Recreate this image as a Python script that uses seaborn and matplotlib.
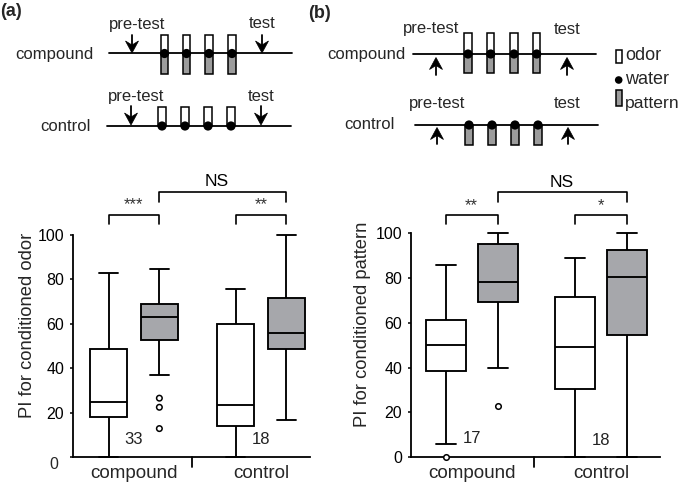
import numpy as np
import pandas as pd
import matplotlib
matplotlib.use('Agg')
import matplotlib.pyplot as plt
import seaborn as sns
from matplotlib.patches import Rectangle, Circle, Polygon

# ---- data ----
groups = ['compound', 'control']
phases = ['pre-test', 'test']

# five-number summaries of each box (min, Q1, median, Q3, max)
odor_compound_pre = [0, 17.9, 25.0, 48.8, 82.7]
odor_compound_test = [36.9, 52.6, 63.0, 69.1, 84.5]
odor_control_pre = [0, 14.0, 23.3, 59.9, 75.8]
odor_control_test = [16.6, 48.6, 56.0, 71.5, 100]
odor_outliers_compound_test = [26.5, 22.4, 12.8]

pattern_compound_pre = [5.8, 38.5, 49.9, 61.2, 85.7]
pattern_compound_test = [40.0, 69.1, 78.3, 95.1, 100]
pattern_control_pre = [0, 30.5, 49.3, 71.5, 88.9]
pattern_control_test = [0, 54.5, 80.4, 92.6, 100]
pattern_outliers_compound_pre = [0]
pattern_outliers_compound_test = [22.9]

n_odor = ['33', '18']
n_odor_y = [7.7, 7.7]
n_pattern = ['17', '18']
n_pattern_y = [8.3, 7.3]
stars_odor = ['***', '**', 'NS']
stars_pattern = ['**', '*', 'NS']
ytick_vals = [0, 20, 40, 60, 80, 100]

box_colors = {'pre-test': 'white', 'test': '#a6a7ab'}


def make_df(cp, ct, xp, xt):
    rows = []
    for g, ph, vals in [('compound', 'pre-test', cp), ('compound', 'test', ct),
                        ('control', 'pre-test', xp), ('control', 'test', xt)]:
        for v in vals:
            rows.append({'group': g, 'phase': ph, 'pi': v})
    return pd.DataFrame(rows)


def make_out(items):
    rows = []
    for g, ph, vals in items:
        for v in vals:
            rows.append({'group': g, 'phase': ph, 'pi': v})
    return pd.DataFrame(rows)


odor_df = make_df(odor_compound_pre, odor_compound_test, odor_control_pre, odor_control_test)
odor_out = make_out([('compound', 'test', odor_outliers_compound_test)])
pattern_df = make_df(pattern_compound_pre, pattern_compound_test, pattern_control_pre, pattern_control_test)
pattern_out = make_out([('compound', 'pre-test', pattern_outliers_compound_pre),
                        ('compound', 'test', pattern_outliers_compound_test)])

sns.set_style('ticks')
plt.rcParams['font.family'] = ['Liberation Sans', 'DejaVu Sans']

fig = plt.figure(figsize=(6.81, 4.86), dpi=100)
W, H = 681, 486


def px_axes(x0, x1, y_top, y_bot):
    return fig.add_axes([x0 / W, 1 - y_bot / H, (x1 - x0) / W, (y_bot - y_top) / H])


def bracket(ax, x1, x2, ytop, ybot, label, ty, fs, color='#333333', tx=None):
    ax.plot([x1, x1, x2, x2], [ybot, ytop, ytop, ybot], color='black', lw=1.2, clip_on=False)
    if tx is None:
        tx = (x1 + x2) / 2
    ax.text(tx, ty, label, ha='center', va='center', fontsize=fs, color=color)


def draw_panel(ax, df, out, ylabel, n_labels, n_y, stars, xlim, mid_tick, b_low, b_high,
               gap, drop_zero, ns_x, label_xy):
    sns.boxplot(data=df, x='group', y='pi', hue='phase', order=groups, hue_order=phases,
                palette=box_colors, whis=(0, 100), width=0.8, gap=gap, linecolor='black',
                linewidth=1.35, showfliers=False, saturation=1, legend=False, ax=ax)
    sns.stripplot(data=out, x='group', y='pi', hue='phase', order=groups, hue_order=phases,
                  palette={'pre-test': 'white', 'test': 'white'}, dodge=True, jitter=False,
                  size=4, linewidth=1.1, edgecolor='black', legend=False, ax=ax, zorder=5)
    # let marks sitting on 0 and 100 show fully
    for art in ax.lines + ax.patches:
        art.set_clip_on(False)
    for coll in ax.collections:
        if len(coll.get_offsets()) > 0:
            coll.set_clip_on(False)
    ax.set_ylim(0, 100)
    ax.set_xlim(*xlim)
    ax.set_yticks(ytick_vals)
    if drop_zero:
        # the "0" sits lower and to the left, below the axis corner
        ax.set_yticklabels([''] + [str(v) for v in ytick_vals[1:]])
        ax.text(-0.061, -3.6, '0', transform=ax.get_yaxis_transform(), ha='right', va='center',
                fontsize=11.5)
    ax.set_xticks([0, 1])
    ax.set_xticklabels(groups)
    ax.tick_params(axis='y', length=2.5, width=1.1, pad=3.5, labelsize=11.5, colors='black')
    ax.tick_params(axis='x', which='major', length=0, pad=5.5, labelsize=13.6)
    # small tick between the two groups
    ax.plot([mid_tick, mid_tick], [0, -4.5], color='black', lw=1.3, clip_on=False)
    ax.set_xlabel('')
    ax.set_ylabel(ylabel, fontsize=13.2)
    ax.yaxis.set_label_coords(*label_xy)
    sns.despine(ax=ax)
    for s in ['left', 'bottom']:
        ax.spines[s].set_linewidth(1.3)
        ax.spines[s].set_color('black')
    for i, n in enumerate(n_labels):
        ax.text(i, n_y[i], n, ha='center', va='center', fontsize=12, color='#222222')
    # significance brackets
    bracket(ax, -0.2, 0.2, b_low[0], b_low[1], stars[0], b_low[2], 12)
    bracket(ax, 0.8, 1.2, b_low[0], b_low[1], stars[1], b_low[2], 12)
    bracket(ax, 0.2, 1.2, b_high[0], b_high[1], stars[2], b_high[2], 12.5, 'black', ns_x)


ax1 = px_axes(72.5, 310, 235, 457)
draw_panel(ax1, odor_df, odor_out, 'PI for conditioned odor', n_odor, n_odor_y, stars_odor,
           (-0.484, 1.386), 0.457, (109.1, 105.0, 113.5), (119.2, 115.0, 124.0), 0.27, True,
           0.655, (-0.154, 0.595))

ax2 = px_axes(410.7, 660, 233.3, 457)
draw_panel(ax2, pattern_df, pattern_out, 'PI for conditioned pattern', n_pattern, n_pattern_y,
           stars_pattern, (-0.471, 1.454), 0.483, (108.2, 104.2, 112.3), (118.3, 113.8, 122.7),
           0.23, False, 0.697, (-0.159, 0.592))

# ---- training schematics (drawn in pixel coordinates) ----
sk = fig.add_axes([0, 0, 1, 1], zorder=-1)
sk.set_xlim(0, W)
sk.set_ylim(H, 0)
sk.axis('off')
sk.patch.set_alpha(0)

pat_gray = '#9c9c9c'


def arrow(x, tip, tail):
    d = 1 if tail < tip else -1
    head = 12
    sk.plot([x, x], [tail, tip - d * 8], color='black', lw=1.3)
    sk.add_patch(Polygon([(x, tip), (x - 6.5, tip - d * head), (x, tip - d * 8),
                          (x + 6.5, tip - d * head)], closed=True, fc='black', ec='black', lw=0.5))


def trial_row(y, x0, x1, centers, odor, pattern, top, bot):
    sk.plot([x0, x1], [y, y], color='black', lw=1.3)
    for c in centers:
        if odor:
            sk.add_patch(Rectangle((c - 3.7, top), 7.4, y - top, fc='white', ec='black', lw=1.1))
        if pattern:
            sk.add_patch(Rectangle((c - 3.7, y), 7.4, bot - y, fc=pat_gray, ec='black', lw=1.1))
        sk.add_patch(Circle((c, y), 4.6, fc='black', ec='none', zorder=3))


fs_s = 12
# panel (a)
sk.text(0, 12, '(a)', fontsize=13, fontweight='bold', va='center', ha='left')
sk.text(94, 54, 'compound', fontsize=fs_s, ha='right', va='center')
trial_row(53.5, 109, 292, [164.5, 186.5, 209, 232], True, True, 35, 74.5)
sk.text(137, 24, 'pre-test', fontsize=fs_s, ha='center', va='center')
sk.text(262, 24, 'test', fontsize=fs_s, ha='center', va='center')
arrow(132, 53, 35)
arrow(262, 53, 35)
sk.text(91, 126, 'control', fontsize=fs_s, ha='right', va='center')
trial_row(126, 107, 291, [162, 185, 208, 231], True, False, 107, 126)
sk.text(136, 96, 'pre-test', fontsize=fs_s, ha='center', va='center')
sk.text(261, 96, 'test', fontsize=fs_s, ha='center', va='center')
arrow(131, 125, 106)
arrow(261, 125, 106)

# panel (b)
sk.text(308, 13, '(b)', fontsize=13, fontweight='bold', va='center', ha='left')
sk.text(406, 54, 'compound', fontsize=fs_s, ha='right', va='center')
trial_row(54, 413, 596, [468, 490.7, 514, 536.7], True, True, 33.5, 73.5)
sk.text(431, 29, 'pre-test', fontsize=fs_s, ha='center', va='center')
sk.text(567, 30, 'test', fontsize=fs_s, ha='center', va='center')
arrow(436, 57.5, 75)
arrow(567, 57.5, 75)
sk.text(395, 124, 'control', fontsize=fs_s, ha='right', va='center')
trial_row(125, 415, 598, [469, 492, 515, 538], False, True, 125, 145)
sk.text(437, 103, 'pre-test', fontsize=fs_s, ha='center', va='center')
sk.text(567, 103, 'test', fontsize=fs_s, ha='center', va='center')
arrow(437, 127.5, 144)
arrow(568, 127.5, 144)

# legend of the schematic
sk.add_patch(Rectangle((616, 50), 5.5, 13, fc='white', ec='black', lw=1.1))
sk.add_patch(Circle((618.7, 80), 3.8, fc='black', ec='none'))
sk.add_patch(Rectangle((616, 90), 6, 16, fc=pat_gray, ec='black', lw=1.1))
sk.text(625, 56, 'odor', fontsize=13, ha='left', va='center')
sk.text(625, 79, 'water', fontsize=13, ha='left', va='center')
sk.text(625, 103, 'pattern', fontsize=12.6, ha='left', va='center')

fig.savefig('out.png', dpi=100)
